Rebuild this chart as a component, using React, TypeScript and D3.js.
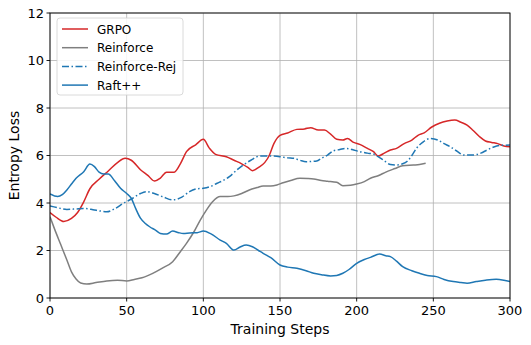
import React from 'react';
import * as d3 from 'd3';

// values: [step, entropy loss]
const grpo: [number, number][] = [
  [0, 3.6], [4, 3.4], [9, 3.22], [14, 3.35], [18, 3.6], [22, 4.05], [26, 4.6], [32, 5.0], [38, 5.35],
  [44, 5.7], [49, 5.88], [53, 5.8], [59, 5.4], [64, 5.15], [68, 4.93], [72, 5.05], [76, 5.3], [81, 5.3],
  [85, 5.65], [89, 6.16], [95, 6.45], [100, 6.68], [104, 6.3], [108, 6.05], [115, 5.95], [120, 5.8],
  [125, 5.65], [129, 5.5], [132, 5.36], [136, 5.5], [140, 5.7], [143, 6.0], [146, 6.5], [150, 6.85],
  [155, 6.95], [161, 7.1], [166, 7.12], [170, 7.17], [175, 7.07], [179, 7.07], [183, 6.9], [187, 6.68],
  [191, 6.65], [194, 6.72], [198, 6.55], [202, 6.47], [207, 6.3], [211, 6.16], [214, 5.98], [218, 6.1],
  [222, 6.23], [226, 6.3], [231, 6.5], [236, 6.65], [240, 6.85], [244, 6.95], [249, 7.2], [254, 7.36],
  [259, 7.45], [264, 7.49], [268, 7.4], [272, 7.28], [276, 7.05], [280, 6.8], [284, 6.61], [288, 6.55],
  [292, 6.5], [296, 6.4], [300, 6.37],
];

const reinforce: [number, number][] = [
  [0, 3.42], [3, 2.9], [7, 2.25], [11, 1.6], [14, 1.1], [17, 0.8], [20, 0.63], [24, 0.59], [30, 0.65],
  [37, 0.72], [44, 0.75], [50, 0.72], [55, 0.78], [60, 0.85], [67, 1.04], [73, 1.25], [80, 1.53],
  [85, 1.95], [89, 2.3], [94, 2.8], [98, 3.28], [102, 3.7], [106, 4.05], [111, 4.27], [116, 4.27],
  [120, 4.3], [125, 4.4], [130, 4.55], [135, 4.65], [139, 4.72], [144, 4.72], [148, 4.76], [152, 4.85],
  [157, 4.95], [163, 5.04], [168, 5.03], [172, 5.01], [177, 4.95], [181, 4.92], [187, 4.87], [191, 4.73],
  [196, 4.75], [200, 4.8], [205, 4.9], [209, 5.04], [214, 5.15], [219, 5.3], [225, 5.45], [230, 5.57],
  [237, 5.6], [241, 5.62], [245, 5.67],
];

const reinforceRej: [number, number][] = [
  [0, 3.87], [5, 3.8], [11, 3.73], [17, 3.75], [22, 3.77], [28, 3.72], [33, 3.66], [37, 3.63], [42, 3.75],
  [48, 3.99], [54, 4.2], [59, 4.4], [63, 4.48], [68, 4.4], [74, 4.25], [80, 4.13], [86, 4.25], [91, 4.48],
  [96, 4.6], [100, 4.62], [105, 4.7], [109, 4.83], [113, 4.95], [117, 5.11], [122, 5.4], [126, 5.6],
  [131, 5.8], [137, 5.98], [143, 5.98], [150, 5.95], [155, 5.9], [159, 5.88], [163, 5.8], [167, 5.74],
  [171, 5.75], [174, 5.77], [177, 5.88], [181, 6.02], [185, 6.2], [189, 6.25], [193, 6.3], [197, 6.25],
  [202, 6.16], [207, 6.1], [211, 6.06], [214, 5.95], [218, 5.78], [222, 5.62], [226, 5.6], [230, 5.65],
  [233, 5.76], [236, 6.0], [239, 6.3], [243, 6.55], [248, 6.72], [253, 6.65], [257, 6.5], [261, 6.37],
  [265, 6.2], [270, 6.02], [276, 6.02], [281, 6.1], [285, 6.23], [289, 6.35], [293, 6.42], [300, 6.44],
];

const raft: [number, number][] = [
  [0, 4.38], [5, 4.27], [8, 4.35], [11, 4.55], [14, 4.8], [17, 5.04], [22, 5.32], [26, 5.64], [29, 5.53],
  [32, 5.3], [35, 5.22], [38, 5.22], [42, 4.95], [46, 4.62], [50, 4.4], [53, 4.2], [56, 3.75], [59, 3.36],
  [62, 3.15], [65, 3.0], [69, 2.85], [72, 2.72], [76, 2.69], [80, 2.82], [84, 2.75], [87, 2.72], [91, 2.74],
  [96, 2.75], [100, 2.82], [105, 2.7], [111, 2.44], [115, 2.3], [120, 2.02], [124, 2.15], [128, 2.23],
  [132, 2.16], [136, 2.0], [139, 1.88], [144, 1.7], [150, 1.39], [155, 1.3], [161, 1.25], [167, 1.15],
  [172, 1.04], [177, 0.98], [183, 0.93], [187, 0.95], [191, 1.04], [195, 1.2], [200, 1.46], [205, 1.62],
  [209, 1.71], [215, 1.85], [219, 1.78], [222, 1.74], [226, 1.55], [230, 1.32], [236, 1.15], [241, 1.04],
  [246, 0.95], [252, 0.9], [257, 0.78], [263, 0.69], [268, 0.65], [272, 0.62], [278, 0.69], [284, 0.75],
  [291, 0.79], [296, 0.75], [300, 0.69],
];

const xTicks = [0, 50, 100, 150, 200, 250, 300];
const yTicks = [0, 2, 4, 6, 8, 10, 12];

const series = [
  { name: 'GRPO', data: grpo, color: '#d62728', dash: undefined },
  { name: 'Reinforce', data: reinforce, color: '#7f7f7f', dash: undefined },
  { name: 'Reinforce-Rej', data: reinforceRej, color: '#1f77b4', dash: '7,2.5,1.5,2.5' },
  { name: 'Raft++', data: raft, color: '#1f77b4', dash: undefined },
];

const W = 531;
const H = 345;
const margin = { left: 50, right: 21, top: 13, bottom: 47 };
const font = 'DejaVu Sans, sans-serif';

export default function App() {
  const x = d3.scaleLinear().domain([0, 300]).range([margin.left, W - margin.right]);
  const y = d3.scaleLinear().domain([0, 12]).range([H - margin.bottom, margin.top]);

  const line = d3.line<[number, number]>()
    .x((d) => x(d[0]))
    .y((d) => y(d[1]))
    .curve(d3.curveMonotoneX);

  const x0 = x(0), x1 = x(300), y0 = y(0), y1 = y(12);

  return (
    <svg width={W} height={H} style={{ position: 'fixed', left: 0, top: 0, display: 'block', background: '#fff' }}
      fontFamily={font}>
      <defs>
        <clipPath id="plot">
          <rect x={x0} y={y1} width={x1 - x0} height={y0 - y1} />
        </clipPath>
      </defs>
      {/* grid */}
      {xTicks.map((t) => (
        <line key={'gx' + t} x1={x(t)} x2={x(t)} y1={y1} y2={y0} stroke="#b0b0b0" strokeWidth={0.8} />
      ))}
      {yTicks.map((t) => (
        <line key={'gy' + t} x1={x0} x2={x1} y1={y(t)} y2={y(t)} stroke="#b0b0b0" strokeWidth={0.8} />
      ))}

      <g clipPath="url(#plot)">
        {series.map((s) => (
          <path key={s.name} d={line(s.data) || ''} fill="none" stroke={s.color}
            strokeWidth={1.5} strokeDasharray={s.dash} strokeLinejoin="round" />
        ))}
      </g>

      {/* spines */}
      <rect x={x0} y={y1} width={x1 - x0} height={y0 - y1} fill="none" stroke="#000" strokeWidth={0.9} />

      {/* ticks */}
      {xTicks.map((t) => (
        <g key={'tx' + t}>
          <line x1={x(t)} x2={x(t)} y1={y0} y2={y0 + 3.5} stroke="#000" strokeWidth={0.9} />
          <text x={x(t)} y={y0 + 17} textAnchor="middle" fontSize={13}>{t}</text>
        </g>
      ))}
      {yTicks.map((t) => (
        <g key={'ty' + t}>
          <line x1={x0 - 3.5} x2={x0} y1={y(t)} y2={y(t)} stroke="#000" strokeWidth={0.9} />
          <text x={x0 - 6} y={y(t) + 4.5} textAnchor="end" fontSize={13}>{t}</text>
        </g>
      ))}

      <text x={(x0 + x1) / 2} y={y0 + 36} textAnchor="middle" fontSize={14}>Training Steps</text>
      <text transform={`translate(19,${(y0 + y1) / 2}) rotate(-90)`} textAnchor="middle" fontSize={14}>Entropy Loss</text>

      {/* legend */}
      <rect x={57} y={18} width={126} height={77} rx={3} fill="#fff" fillOpacity={0.85} stroke="#d0d0d0" strokeWidth={0.8} />
      {series.map((s, i) => (
        <g key={'lg' + s.name} transform={`translate(62,${29 + i * 18.7})`}>
          <line x1={0} x2={26} y1={0} y2={0} stroke={s.color} strokeWidth={1.5} strokeDasharray={s.dash} />
          <text x={35} y={4.5} fontSize={12}>{s.name}</text>
        </g>
      ))}
    </svg>
  );
}
